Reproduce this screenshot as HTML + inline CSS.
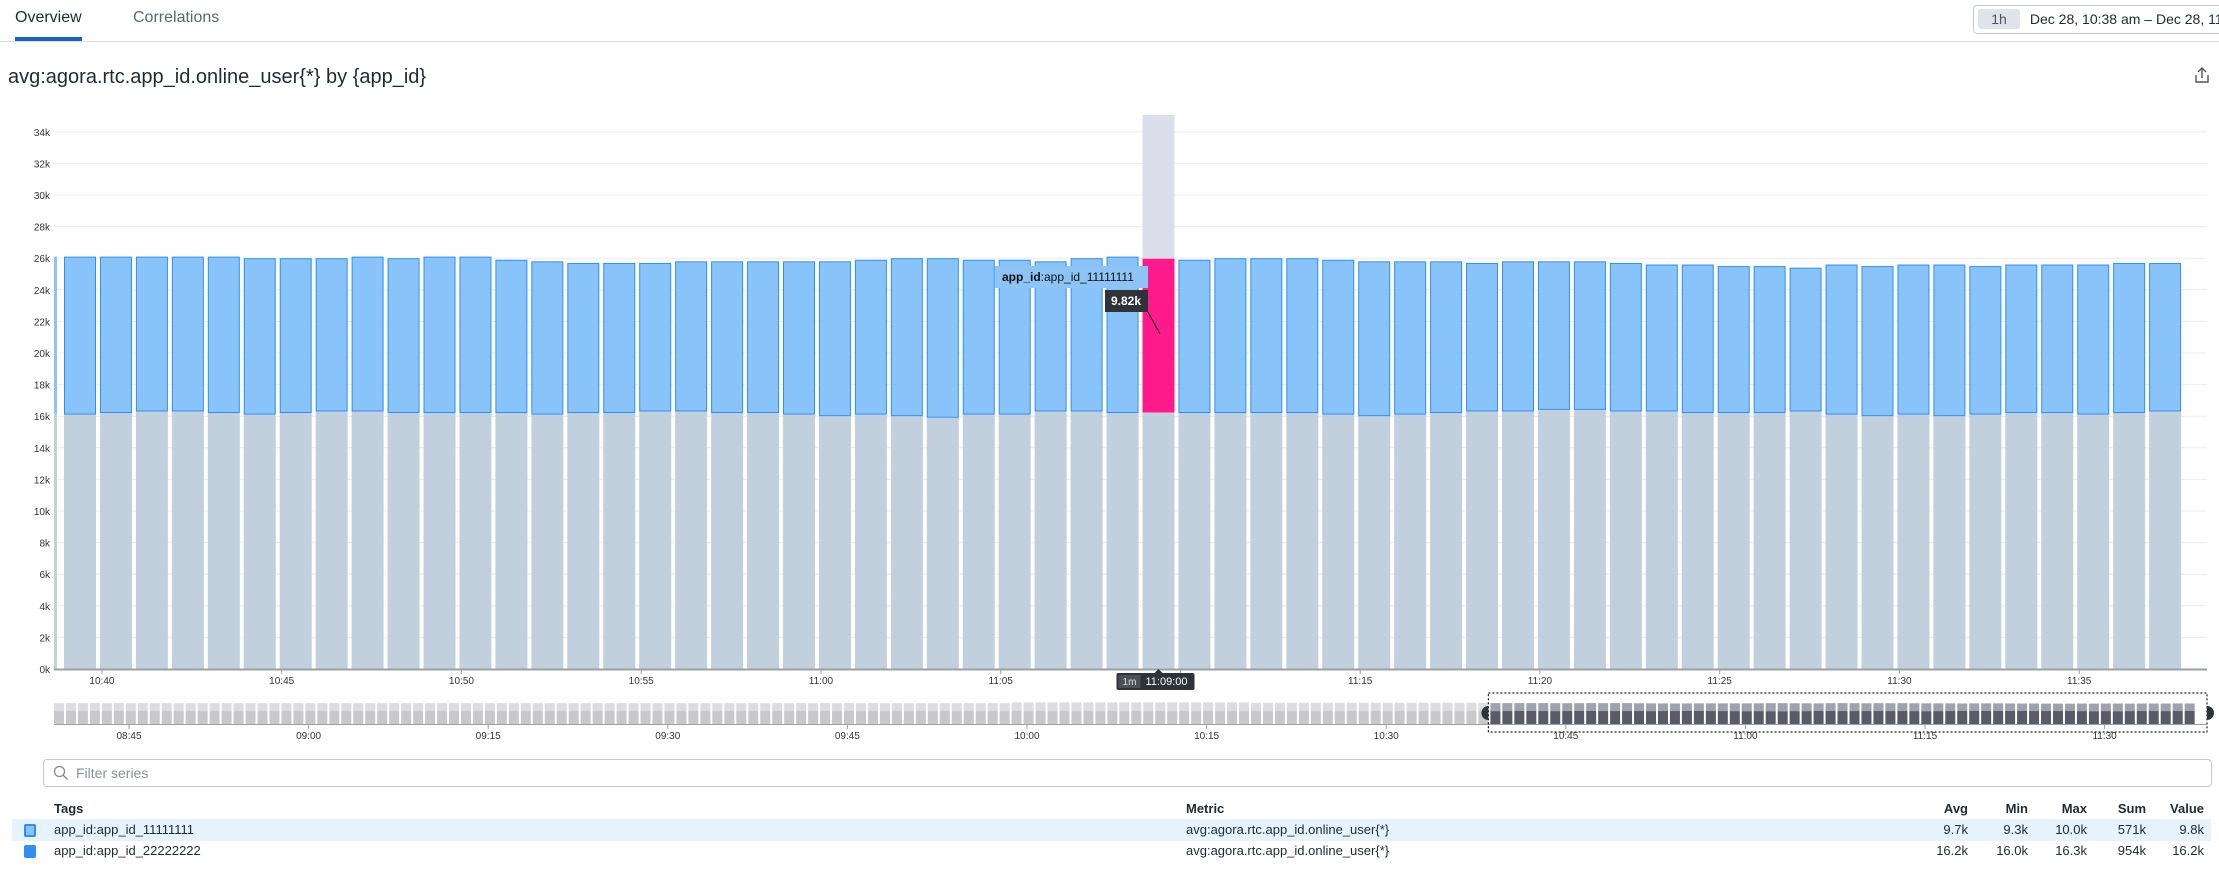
<!DOCTYPE html>
<html><head><meta charset="utf-8">
<style>
body{margin:0;width:2219px;height:873px;overflow:hidden;background:#fff;font-family:"Liberation Sans",sans-serif;color:#1c2b34;position:relative}
.a{position:absolute;white-space:nowrap}
</style></head><body>
<div class="a" style="left:15px;top:9px;font-size:16px;color:#1c2b34">Overview</div>
<div class="a" style="left:15px;top:37px;width:67px;height:4px;background:#1a63c6"></div>
<div class="a" style="left:133px;top:9px;font-size:16px;color:#5b6770">Correlations</div>
<div class="a" style="left:0;top:41px;width:2219px;height:1px;background:#dcdfe6"></div>
<div class="a" style="left:1973px;top:5px;width:260px;height:27px;border:1px solid #c4c8d4;border-radius:4px;font-size:14px;line-height:27px">
 <span style="display:inline-block;margin-left:4px;width:42px;height:20px;line-height:20px;background:#e1e3ec;border-radius:3px;text-align:center;color:#555">1h</span>
 <span style="margin-left:6px">Dec 28, 10:38 am – Dec 28, 11:38 am</span>
</div>
<div class="a" style="left:8px;top:66px;font-size:20px;color:#1c2b34">avg:agora.rtc.app_id.online_user{*} by {app_id}</div>
<svg class="a" style="left:2194px;top:66px" width="16" height="18" viewBox="0 0 16 18"><path d="M8 12V2M4 6l4-4 4 4M2 9v7h12V9" fill="none" stroke="#555" stroke-width="1.4"/></svg>

<svg id="chart" class="a" style="left:0;top:0" width="2219" height="800"></svg>

<div class="a" style="left:43px;top:759px;width:2167px;height:26px;border:1px solid #c4c8d4;border-radius:4px">
 <svg style="position:absolute;left:9px;top:5px" width="16" height="16"><circle cx="6.5" cy="6.5" r="5" fill="none" stroke="#888" stroke-width="1.3"/><path d="M10 10l4.5 4.5" stroke="#888" stroke-width="1.3"/></svg>
 <span style="position:absolute;left:32px;top:5px;font-size:14px;color:#8a9299">Filter series</span>
</div>
<div class="a" style="left:54px;top:801px;font-size:13px;font-weight:bold">Tags</div>
<div class="a" style="left:1186px;top:801px;font-size:13px;font-weight:bold">Metric</div>
<div class="a" style="left:12px;top:819px;width:2199px;height:22px;background:#e5f3fc"></div>
<div class="a" style="left:24px;top:824px;width:8px;height:9px;background:#88c3fa;border:2px solid #2f8ff0;border-radius:2px"></div>
<div class="a" style="left:24px;top:845px;width:12px;height:13px;background:#2f8ff0;border-radius:2px"></div>
<div class="a" style="left:54px;top:822px;font-size:13px">app_id:app_id_11111111</div>
<div class="a" style="left:54px;top:843px;font-size:13px">app_id:app_id_22222222</div>
<div class="a" style="left:1186px;top:822px;font-size:13px">avg:agora.rtc.app_id.online_user{*}</div>
<div class="a" style="left:1186px;top:843px;font-size:13px">avg:agora.rtc.app_id.online_user{*}</div>
<div id="stats"></div>

<script>
const minutes = [];
for(let h=10,m=39;!(h===11&&m===38);){minutes.push(h+":"+String(m).padStart(2,"0"));m++;if(m===60){m=0;h++;}}
const bottomSeries = [16.1,16.2,16.3,16.3,16.2,16.1,16.2,16.3,16.3,16.2,16.2,16.2,16.2,16.1,16.2,16.2,16.3,16.3,16.2,16.2,16.1,16.0,16.1,16.0,15.9,16.1,16.1,16.3,16.3,16.2,16.2,16.2,16.2,16.2,16.2,16.1,16.0,16.1,16.2,16.3,16.3,16.4,16.4,16.3,16.3,16.2,16.2,16.2,16.3,16.1,16.0,16.1,16.0,16.1,16.2,16.2,16.1,16.2,16.3];
const totalSeries = [26.1,26.1,26.1,26.1,26.1,26.0,26.0,26.0,26.1,26.0,26.1,26.1,25.9,25.8,25.7,25.7,25.7,25.8,25.8,25.8,25.8,25.8,25.9,26.0,26.0,25.9,25.9,25.8,26.0,26.1,26.0,25.9,26.0,26.0,26.0,25.9,25.8,25.8,25.8,25.7,25.8,25.8,25.8,25.7,25.6,25.6,25.5,25.5,25.4,25.6,25.5,25.6,25.6,25.5,25.6,25.6,25.6,25.7,25.7];
const yTicks = [0,2,4,6,8,10,12,14,16,18,20,22,24,26,28,30,32,34];
const xTickLabels = ["10:40","10:45","10:50","10:55","11:00","11:05","11:10","11:15","11:20","11:25","11:30","11:35"];
const miniTickLabels = ["08:45","09:00","09:15","09:30","09:45","10:00","10:15","10:30","10:45","11:00","11:15","11:30"];
const miniTotal = [26.0,26.0,26.1,26.0,26.0,26.1,26.0,26.0,26.0,26.1,26.0,26.0,26.0,26.0,26.1,26.0,26.0,26.0,26.1,26.0,26.0,26.0,26.0,26.1,26.0,26.0,26.0,26.0,26.1,26.0,26.0,26.0,26.0,26.0,26.1,26.0,26.0,26.0,26.0,26.0,26.0,26.0,26.0,26.0,26.0,26.0,26.0,26.0,26.0,26.0,26.0,26.0,26.0,26.0,26.0,26.0,26.0,26.0,26.0,26.0,26.0,26.0,26.0,26.0,26.0,26.0,26.0,26.0,26.0,26.0,26.0,26.0,26.0,26.0,26.0,26.0,26.0,26.0,26.0,26.0,27.0,27.0,27.0,27.0,27.0,27.0,27.0,27.0,27.0,27.0,27.0,27.0,27.0,27.0,27.0,27.0,27.0,27.0,27.0,27.0,26.5,26.5,26.5,26.5,26.5,26.5,26.5,26.5,26.5,26.5,26.5,26.5,26.5,26.5,26.5,26.5,26.5,26.5,26.5,26.5];
const hoverIndex = 30; const hoverValue = "9.82k";

const NS="http://www.w3.org/2000/svg", svg=document.getElementById("chart");
function el(t,a,p){const e=document.createElementNS(NS,t);for(const k in a)e.setAttribute(k,a[k]);(p||svg).appendChild(e);return e;}
const x0=66, pitch=35.95; // x of 10:39
const xm=i=>x0+i*pitch;
const yv=v=>669-v*15.8;
const left=54,right=2207;
// gridlines & y labels
yTicks.forEach(v=>{
 const g=el("line",{x1:left,x2:right,y1:yv(v),y2:yv(v),stroke:"#ececef","stroke-width":1});
 
 
 const t=el("text",{x:50,y:yv(v)+4,"font-size":10,"text-anchor":"end",fill:"#333"});t.textContent=v+"k";
 
 
});
// hover column
const hc=el("rect",{x:xm(hoverIndex)-2,y:115,width:32,height:554,fill:"#dcdfeb"});


// partial first bar
const pb=el("rect",{x:left,y:yv(16.2),width:3,height:yv(0)-yv(16.2),fill:"#c2cfdc"});


const pt=el("rect",{x:left,y:yv(26.1),width:3,height:yv(16.2)-yv(26.1),fill:"#88c3fa"});


minutes.forEach((m,i)=>{
 const bx=xm(i)-2,w=32,b=bottomSeries[i],t=totalSeries[i];
 const r1=el("rect",{x:bx,y:yv(b),width:w,height:yv(0)-yv(b),fill:"#c2cfdc"});
 
 
 const hov=i===hoverIndex;
 const r2=el("rect",{x:hov?bx:bx+0.5,y:yv(t)+0.5,width:hov?w:w-1,height:yv(b)-yv(t)-1,fill:hov?"#ff1a8c":"#88c3fa",stroke:hov?"none":"#2f8ff0","stroke-width":1});
 
 
});
// axis
const ax=el("line",{x1:left,x2:right,y1:669.5,y2:669.5,stroke:"#9aa0a8","stroke-width":2});


xTickLabels.forEach((l,k)=>{
 const x=xm(1+k*5);
 const tk=el("line",{x1:x,x2:x,y1:670,y2:674,stroke:"#9aa0a8"});
 
 
 const t=el("text",{x:x,y:684,"font-size":10,"text-anchor":"middle",fill:"#333"});t.textContent=l;
 
 
});
// hover time marker
const hx=xm(hoverIndex)+14;
const hm=el("rect",{x:hx-42,y:673,width:78,height:17,fill:"#2d3339",rx:2});


const hm2=el("rect",{x:hx-40,y:675,width:22,height:13,fill:"#4a5158"});


const ht1=el("text",{x:hx-29,y:685,"font-size":10,"text-anchor":"middle",fill:"#ddd"});ht1.textContent="1m";


const ht2=el("text",{x:hx+8,y:685,"font-size":11,"text-anchor":"middle",fill:"#fff"});ht2.textContent="11:09:00";


const caret=el("path",{d:`M${hx-4} 673 L${hx} 669 L${hx+4} 673Z`,fill:"#2d3339"});


// tooltip
const tb=el("rect",{x:995,y:266,width:153,height:22,fill:"#8cc4f6"});


const tt=el("text",{x:1002,y:281,"font-size":12,fill:"#111"});


const tsb=el("tspan",{"font-weight":"bold"},tt);tsb.textContent="app_id";
const tsr=el("tspan",{},tt);tsr.textContent=":app_id_11111111";
const vb=el("rect",{x:1105,y:290,width:43,height:22,fill:"#2d3339"});


const vt=el("text",{x:1126,y:305,"font-size":12,"font-weight":"bold","text-anchor":"middle",fill:"#fff"});vt.textContent=hoverValue;


const ln=el("line",{x1:1148,y1:312,x2:1160,y2:334,stroke:"#111","stroke-width":1});


// minimap
const mx=i=>left+i*11.97;
const my=v=>724-v*0.8;
const allTotal=miniTotal.concat(totalSeries), allBottom=miniTotal.map(()=>16.2).concat(bottomSeries);
allTotal.forEach((t,i)=>{
 const x=mx(i); if(x+10>right)return;
 const sel=i>=120;
 const a=el("rect",{x:x,y:my(t),width:10,height:my(allBottom[i])-my(t),fill:sel?"#a0a2ab":"#dcdce0"});
 
 
 const b=el("rect",{x:x,y:my(allBottom[i]),width:10,height:724-my(allBottom[i]),fill:sel?"#5b5a6b":"#c8c7cc"});
 
 
});
const ma=el("line",{x1:left,x2:right,y1:724.5,y2:724.5,stroke:"#9aa0a8"});


miniTickLabels.forEach((l,k)=>{
 const x=129+k*179.6;
 const tk=el("line",{x1:x,x2:x,y1:725,y2:729,stroke:"#9aa0a8"});
 
 
 const t=el("text",{x:x,y:739,"font-size":10,"text-anchor":"middle",fill:"#333"});t.textContent=l;
 
 
});
const selx=mx(120)-2;
const sb=el("rect",{x:selx,y:693,width:right-selx,height:39,fill:"none",stroke:"#222","stroke-dasharray":"2,2","stroke-width":1.2});


[selx,right].forEach((x,k)=>{
 const h=el("path",{d:k? `M${x} 706 A7 7 0 0 1 ${x} 720Z` : `M${x} 706 A7 7 0 0 0 ${x} 720Z`,fill:"#2d3339"});
 
 
});
// stats table
const statHeaders=["Avg","Min","Max","Sum","Value"];
const row1=["9.7k","9.3k","10.0k","571k","9.8k"];
const row2=["16.2k","16.0k","16.3k","954k","16.2k"];
const rightEdges=[1968,2028,2087,2146,2204];
const st=document.getElementById("stats");
function cell(txt,x,y,bold,name){const d=document.createElement("div");d.className="a";d.style.cssText=`right:${2219-x}px;top:${y}px;font-size:13px;${bold?"font-weight:bold":""}`;d.textContent=txt;
 
 
 st.appendChild(d);}
statHeaders.forEach((h,i)=>cell(h,rightEdges[i],801,true,'stat-header'));
row1.forEach((h,i)=>cell(h,rightEdges[i],822,false,'row-1-stat'));
row2.forEach((h,i)=>cell(h,rightEdges[i],843,false,'row-2-stat'));
</script>
</body></html>
